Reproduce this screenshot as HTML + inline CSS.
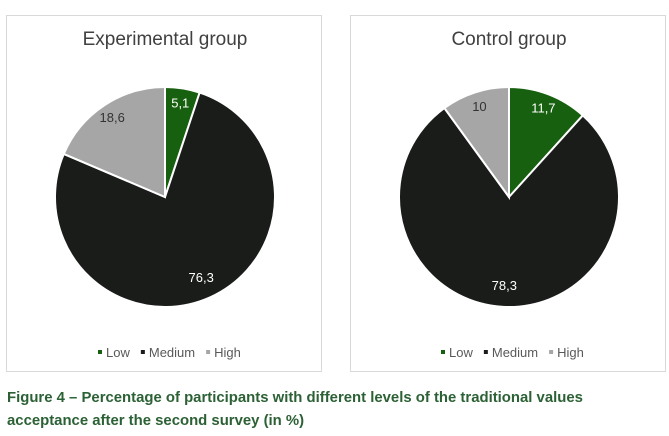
<!DOCTYPE html>
<html><head><meta charset="utf-8"><style>
body{margin:0;background:#fff;width:669px;height:436px;overflow:hidden;font-family:"Liberation Sans",sans-serif;}
.panel{position:absolute;top:15px;width:316px;height:357px;border:1px solid #d9d9d9;box-sizing:border-box;}
.caption{position:absolute;left:7px;top:387px;font-weight:bold;font-size:14.9px;line-height:23px;color:#2c6135;}
</style></head><body>
<div class="panel" style="left:6px"></div>
<div class="panel" style="left:350px"></div>
<svg id="chart" width="669" height="436" style="position:absolute;left:0;top:0"></svg>
<div class="caption">Figure 4 – Percentage of participants with different levels of the traditional values<br>acceptance after the second survey (in %)</div>
<script>
const categories=["Low","Medium","High"];
const experimentalValues=[5.1,76.3,18.6];
const controlValues=[11.7,78.3,10];
const valueLabels=[["5,1","76,3","18,6"],["11,7","78,3","10"]];
const titles=["Experimental group","Control group"];
const colors=["#17600f","#1a1c1a","#a6a6a6"];
const NS="http://www.w3.org/2000/svg";
const svg=document.getElementById("chart");
function mk(t,a){const e=document.createElementNS(NS,t);for(const k in a)e.setAttribute(k,a[k]);svg.appendChild(e);return e;}
function drawPie(vals,labels,title,cx,cy,r,legendX){
  const tot=vals.reduce((a,b)=>a+b,0);
  const t=mk("text",{x:cx,y:45,"text-anchor":"middle","font-size":"19","fill":"#404040"});
  t.textContent=title;
  
  
  let acc=0;
  vals.forEach((v,i)=>{
    const a0=acc/tot*2*Math.PI;acc+=v;const a1=acc/tot*2*Math.PI;
    const p=(a)=>[cx+r*Math.sin(a),cy-r*Math.cos(a)];
    const [x0,y0]=p(a0),[x1,y1]=p(a1);
    const large=(a1-a0)>Math.PI?1:0;
    const path=mk("path",{d:`M${cx},${cy}L${x0},${y0}A${r},${r} 0 ${large} 1 ${x1},${y1}Z`,fill:colors[i],stroke:"#fff","stroke-width":"2"});
    
    
    const am=(a0+a1)/2;const f=v/tot>0.5?0.8:0.87;
    const lx=cx+r*f*Math.sin(am),ly=cy-r*f*Math.cos(am);
    const lt=mk("text",{x:lx,y:ly+5,"text-anchor":"middle","font-size":"13",fill:i==2?"#333":"#fff"});
    lt.textContent=labels[i];
    
    
  });
  let lx=legendX;
  categories.forEach((c,i)=>{
    const sq=mk("rect",{x:lx,y:350,width:4,height:4,fill:colors[i]});
    
    
    const lt=mk("text",{x:lx+8,y:357,"font-size":"13",fill:"#595959"});
    lt.textContent=c;
    
    
    lx+=8+lt.getComputedTextLength()+11;
  });
}
drawPie(experimentalValues,valueLabels[0],titles[0],165,197,110,98);
drawPie(controlValues,valueLabels[1],titles[1],509,197,110,441);
</script>
</body></html>
